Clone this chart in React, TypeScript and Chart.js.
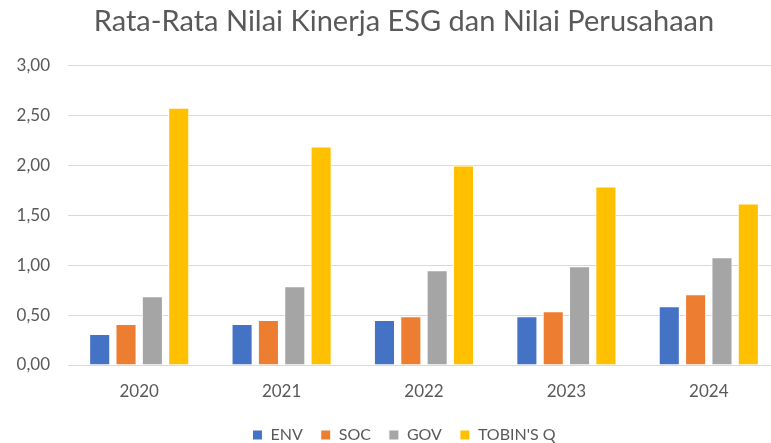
import React, { useEffect, useRef } from "react";
import { Chart, registerables } from "chart.js";

Chart.register(...registerables);

const years = ["2020", "2021", "2022", "2023", "2024"];
const envValues = [0.31, 0.41, 0.45, 0.49, 0.59];
const socValues = [0.41, 0.45, 0.49, 0.54, 0.71];
const govValues = [0.69, 0.79, 0.95, 0.99, 1.08];
const tobinValues = [2.58, 2.19, 2.0, 1.79, 1.62];
const seriesNames = ["ENV", "SOC", "GOV", "TOBIN'S Q"];
const seriesColors = ["#4472C4", "#ED7D31", "#A5A5A5", "#FFC000"];
const titleText = "Rata-Rata Nilai Kinerja ESG dan Nilai Perusahaan";

const FONT = "Lato";
const TEXT = "#595959";

export default function App() {
  const ref = useRef<HTMLCanvasElement | null>(null);

  useEffect(() => {
    if (!ref.current) return;
    const values = [envValues, socValues, govValues, tobinValues];
    const chart = new Chart(ref.current, {
      type: "bar",
      data: {
        labels: years,
        datasets: values.map((v, i) => ({
          label: seriesNames[i],
          data: v,
          yAxisID: "y",
          backgroundColor: seriesColors[i],
          borderColor: "#ffffff",
          borderWidth: 1,
          categoryPercentage: 0.74,
          barPercentage: 0.8,
        })),
      },
      options: {
        animation: false,
        responsive: false,
        maintainAspectRatio: false,
        devicePixelRatio: 1,
        layout: { padding: { left: 13, right: 0, top: 0, bottom: 0 } },
        plugins: {
          title: {
            display: true,
            text: titleText,
            color: TEXT,
            font: { family: FONT, size: 29, weight: "normal" },
            padding: { top: 4, bottom: 27 },
          },
          legend: {
            display: true,
            position: "bottom",
            labels: {
              boxWidth: 10,
              boxHeight: 10,
              padding: 18,
              color: TEXT,
              font: { family: FONT, size: 16 },
            },
          },
          tooltip: { enabled: false },
        },
        scales: {
          x: {
            grid: { display: false, drawTicks: false },
            border: { display: true, color: "#d9d9d9", width: 1 },
            ticks: {
              color: TEXT,
              font: { family: FONT, size: 17 },
              padding: 16,
            },
            afterFit: (scale: any) => {
              scale.height = 44;
            },
          },
          y: {
            position: "left",
            min: 0,
            max: 3,
            grid: { color: "#d9d9d9", lineWidth: 1, drawTicks: false },
            border: { display: false },
            ticks: {
              stepSize: 0.5,
              color: TEXT,
              font: { family: FONT, size: 17 },
              padding: 18,
              callback: (v: any) => Number(v).toFixed(2).replace(".", ","),
            },
            afterFit: (scale: any) => {
              scale.width = 55;
            },
          },
          yRight: {
            position: "right",
            display: true,
            grid: { display: false, drawTicks: false },
            border: { display: false },
            ticks: { display: false },
            afterFit: (scale: any) => {
              scale.width = 15;
            },
          },
        },
      },
    });
    return () => chart.destroy();
  }, []);

  return (
    <div
      style={{
        position: "fixed",
        left: 0,
        top: 0,
        width: 771,
        height: 443,
        overflow: "hidden",
        background: "#ffffff",
      }}
    >
      <canvas ref={ref} width={795} height={453} style={{ width: 795, height: 453, display: "block" }} />
    </div>
  );
}
